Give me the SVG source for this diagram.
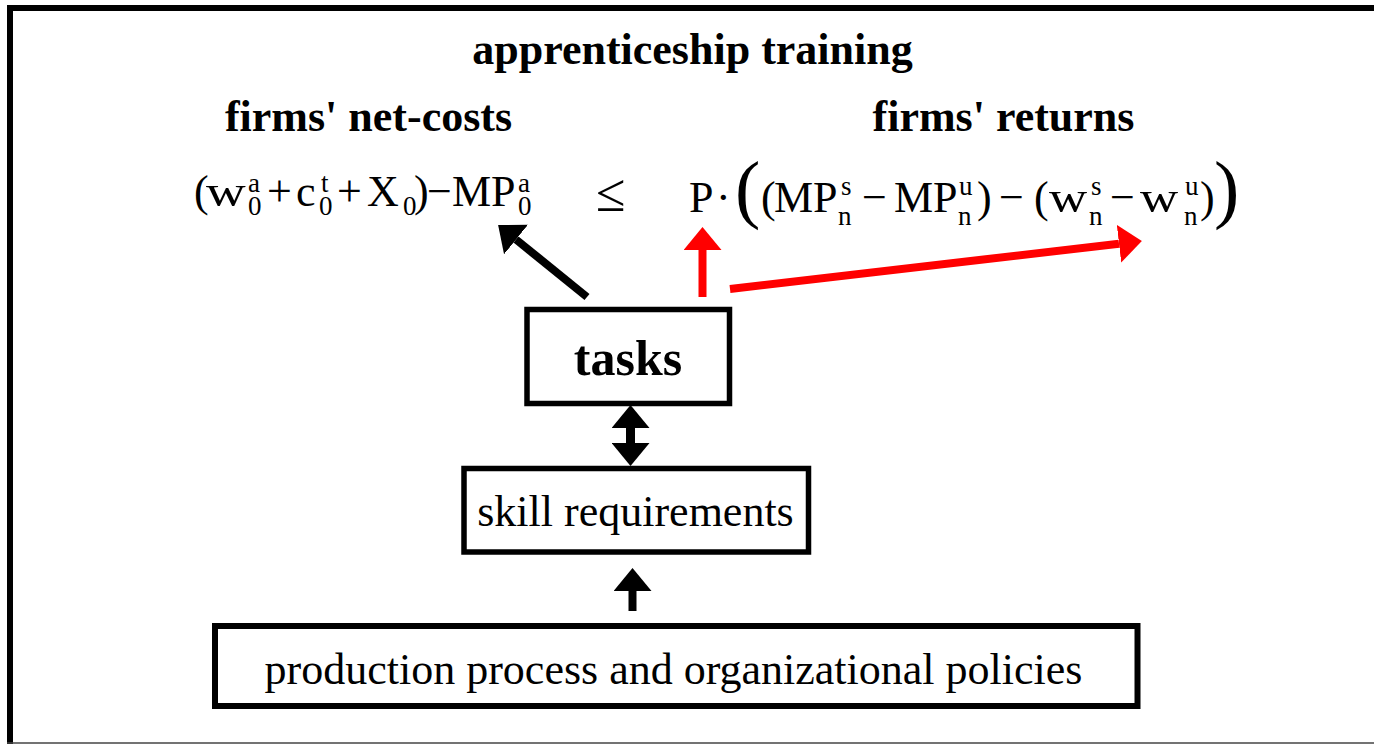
<svg xmlns="http://www.w3.org/2000/svg" width="1374" height="744" viewBox="0 0 1374 744">
  <style>
    .serif { font-family: "Liberation Serif", "Times New Roman", serif; fill: #000; }
    .head { font-size: 44px; font-weight: bold; text-anchor: middle; }
    .label { font-size: 44px; text-anchor: middle; }
    .eq { font-size: 44px; }
    .scr { font-size: 27px; }
    .big { font-size: 76px; }
    .box { fill: #fff; stroke: #000; }
    .blk { stroke: #000; fill: none; }
    .red { stroke: #ff0000; fill: none; stroke-width: 8; }
  </style>
  <defs>
    <marker id="headBlack" viewBox="0 0 23 38" refX="0" refY="19" markerWidth="23" markerHeight="38" markerUnits="userSpaceOnUse" orient="auto-start-reverse">
      <path d="M0,0 L23,19 L0,38 z" fill="#000"/>
    </marker>
    <marker id="headRed" viewBox="0 0 23 38" refX="0" refY="19" markerWidth="23" markerHeight="38" markerUnits="userSpaceOnUse" orient="auto">
      <path d="M0,0 L23,19 L0,38 z" fill="#ff0000"/>
    </marker>
  </defs>

  <rect width="1374" height="744" fill="#fff"/>

  <!-- outer frame (open on the right) -->
  <g id="frame">
    <line x1="7" y1="8" x2="1374" y2="8" stroke="#000" stroke-width="6"/>
    <line x1="10" y1="5" x2="10" y2="744" stroke="#000" stroke-width="6"/>
    <line x1="7" y1="743" x2="1374" y2="743" stroke="#444" stroke-width="1.5"/>
  </g>

  <!-- headings -->
  <g id="headings" class="serif">
    <text class="head" x="692.5" y="64">apprenticeship training</text>
    <text class="head" x="368.5" y="131">firms' net-costs</text>
    <text class="head" x="1003.5" y="131">firms' returns</text>
  </g>

  <!-- net-cost term -->
  <g id="net-costs" class="serif">
    <text class="eq" y="206">
      <tspan x="194">(</tspan>
      <tspan x="267">+</tspan><tspan x="296">c</tspan>
      <tspan x="337">+</tspan><tspan x="367">X</tspan>
      <tspan x="414">)</tspan><tspan x="427">−</tspan><tspan x="452">MP</tspan>
    </text>
    <text class="eq" transform="translate(206,206) scale(1.25,1)">w</text>
    <text class="scr" y="192"><tspan x="248">a</tspan><tspan x="321">t</tspan><tspan x="518">a</tspan></text>
    <text class="scr" y="215"><tspan x="248">0</tspan><tspan x="319">0</tspan><tspan x="403">0</tspan><tspan x="518">0</tspan></text>
  </g>

  <g id="leq" class="serif">
    <text x="596" y="211" style="font-size:54px">≤</text>
  </g>

  <!-- return term -->
  <g id="returns" class="serif">
    <text class="eq" y="212">
      <tspan x="689">P</tspan><tspan x="716">·</tspan>
      <tspan x="761">(</tspan><tspan x="774">MP</tspan>
      <tspan x="862">−</tspan><tspan x="894">MP</tspan>
      <tspan x="977">)</tspan><tspan x="999">−</tspan>
      <tspan x="1034">(</tspan>
      <tspan x="1110">−</tspan>
      <tspan x="1200">)</tspan>
    </text>
    <text class="eq" transform="translate(1049,212) scale(1.2,1)">w</text>
    <text class="eq" transform="translate(1140,212) scale(1.2,1)">w</text>
    <text class="big" y="214"><tspan x="735">(</tspan><tspan x="1214">)</tspan></text>
    <text class="scr" y="195"><tspan x="841">s</tspan><tspan x="959">u</tspan><tspan x="1091">s</tspan><tspan x="1185">u</tspan></text>
    <text class="scr" y="225"><tspan x="838">n</tspan><tspan x="958">n</tspan><tspan x="1089">n</tspan><tspan x="1184">n</tspan></text>
  </g>

  <!-- nodes -->
  <g id="tasks">
    <rect class="box" x="527" y="309.5" width="202.5" height="94" stroke-width="5.5"/>
    <text class="serif" x="628" y="375" text-anchor="middle" style="font-size:50px;font-weight:bold">tasks</text>
  </g>
  <g id="skill-requirements">
    <rect class="box" x="464" y="468.5" width="344.5" height="83.5" stroke-width="5.5"/>
    <text class="serif label" x="635.5" y="526">skill requirements</text>
  </g>
  <g id="production-process">
    <rect class="box" x="215" y="626" width="922.5" height="80" stroke-width="6"/>
    <text class="serif label" x="673.5" y="684">production process and organizational policies</text>
  </g>

  <!-- connectors -->
  <g id="connectors">
    <line class="blk" x1="587" y1="297" x2="516" y2="239.5" stroke-width="8" marker-end="url(#headBlack)"/>
    <line class="red" x1="702.5" y1="297" x2="702.5" y2="250" marker-end="url(#headRed)"/>
    <line class="red" x1="730" y1="289" x2="1119" y2="243.7" marker-end="url(#headRed)"/>
    <line class="blk" x1="630.5" y1="428" x2="630.5" y2="443" stroke-width="9" marker-start="url(#headBlack)" marker-end="url(#headBlack)"/>
    <line class="blk" x1="632.5" y1="611" x2="632.5" y2="591" stroke-width="8" marker-end="url(#headBlack)"/>
  </g>
</svg>
